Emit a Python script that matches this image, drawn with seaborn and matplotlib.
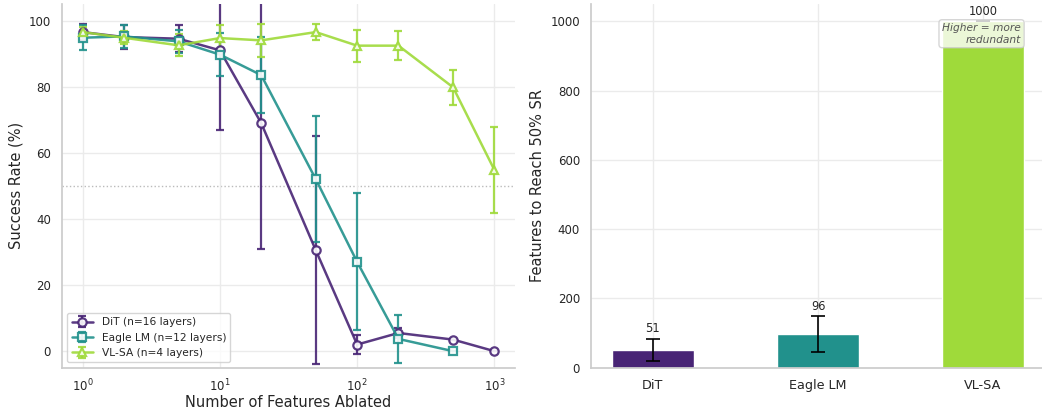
import matplotlib
matplotlib.use("Agg")
import matplotlib.pyplot as plt
import seaborn as sns
import pandas as pd

# Ablation sweep: success rate vs. number of ablated features
features = [1, 2, 5, 10, 20, 50, 100, 200, 500, 1000]
dit_mean = [96.5, 95.0, 94.5, 91.0, 69.0, 30.5, 2.0, 5.5, 3.5, 0.0]
dit_std = [2.5, 3.5, 4.0, 24.0, 38.0, 34.5, 3.0, 1.5, 0.0, 0.0]

eagle_features = [1, 2, 5, 10, 20, 50, 100, 200, 500]
eagle_mean = [94.8, 95.2, 93.7, 89.7, 83.5, 52.0, 27.0, 3.7, 0.0]
eagle_std = [3.7, 3.5, 3.5, 6.5, 11.5, 19.0, 20.7, 7.3, 0.0]

vlsa_mean = [96.5, 94.8, 92.5, 94.7, 94.0, 96.5, 92.4, 92.4, 79.8, 54.8]
vlsa_std = [1.5, 2.0, 3.3, 4.0, 5.0, 2.4, 4.8, 4.3, 5.3, 13.0]

series_labels = ["DiT (n=16 layers)", "Eagle LM (n=12 layers)", "VL-SA (n=4 layers)"]

# Features needed to reach 50% success rate
models = ["DiT", "Eagle LM", "VL-SA"]
reach50 = [51, 96, 1000]
reach50_err = [32, 52, 0]

colors = ["#482475", "#21918c", "#9fda3a"]
markers = ["o", "s", "^"]

sns.set_theme(style="whitegrid")
plt.rcParams.update({
    "axes.edgecolor": "#cccccc",
    "grid.color": "#ebebeb",
    "text.color": "#262626",
    "axes.labelcolor": "#262626",
    "xtick.color": "#262626",
    "ytick.color": "#262626",
})

fig = plt.figure(figsize=(10.42, 4.11), dpi=100)
W, H = 1042.0, 411.0
ax1 = fig.add_axes([62 / W, (H - 367.7) / H, 453 / W, 363.7 / H])
ax2 = fig.add_axes([591 / W, (H - 367.7) / H, 454 / W, 363.7 / H])

# Left panel: success-rate curves with error bars
curves = [
    (features, dit_mean, dit_std),
    (eagle_features, eagle_mean, eagle_std),
    (features, vlsa_mean, vlsa_std),
]
for (xs, ys, es), lab, col, mk in zip(curves, series_labels, colors, markers):
    ax1.errorbar(xs, ys, yerr=es, label=lab, color=col, marker=mk,
                 markersize=6, markerfacecolor="white", markeredgewidth=1.6,
                 markeredgecolor=col, linewidth=1.8, elinewidth=1.6,
                 capsize=3, capthick=1.6, alpha=0.9)

ax1.axhline(50, color="#aaaaaa", linestyle=":", linewidth=1.0, alpha=0.8, zorder=0)
ax1.set_xscale("log")
ax1.set_ylim(-5, 105)
ax1.set_yticks([0, 20, 40, 60, 80, 100])
ax1.set_xlabel("Number of Features Ablated", fontsize=10.5, labelpad=1)
ax1.set_ylabel("Success Rate (%)", fontsize=10.5)
ax1.tick_params(axis="y", labelsize=8.5, length=0, pad=8)
ax1.tick_params(axis="x", labelsize=8.5, length=0, pad=7)
ax1.minorticks_off()
leg = ax1.legend(loc="lower left", fontsize=7.7, frameon=True, fancybox=True)
leg.get_frame().set_edgecolor("#cccccc")
sns.despine(ax=ax1)

# Right panel: features needed to reach 50% SR
df = pd.DataFrame({"model": models, "reach": reach50})
sns.barplot(data=df, x="model", y="reach", hue="model", palette=colors,
            saturation=1, width=0.5, edgecolor="white", linewidth=1.0,
            legend=False, ax=ax2)
ax2.errorbar(range(len(models)), reach50, yerr=reach50_err, fmt="none",
             ecolor="black", elinewidth=1.2, capsize=5, capthick=1.2, zorder=3)
for i, (v, e) in enumerate(zip(reach50, reach50_err)):
    ax2.text(i, v + e + 10, f"{v}", ha="center", va="bottom", fontsize=8.3)
ax2.set_xlim(-0.375, 2.375)
ax2.set_ylim(0, 1050)
ax2.set_xlabel("")
ax2.set_ylabel("Features to Reach 50% SR", fontsize=10.5)
ax2.tick_params(axis="y", labelsize=8.5, length=0, pad=8)
ax2.tick_params(axis="x", labelsize=9.2, length=0, pad=8)
ax2.grid(True, axis="both")
ax2.text(0.947, 0.948, "Higher = more\nredundant", transform=ax2.transAxes,
         ha="right", va="top", fontsize=7.7, style="italic", color="#555555",
         bbox=dict(boxstyle="round,pad=0.3", facecolor="white", alpha=0.8,
                   edgecolor="#cccccc"), zorder=5)
sns.despine(ax=ax2)

fig.savefig("out.png", dpi=100)
